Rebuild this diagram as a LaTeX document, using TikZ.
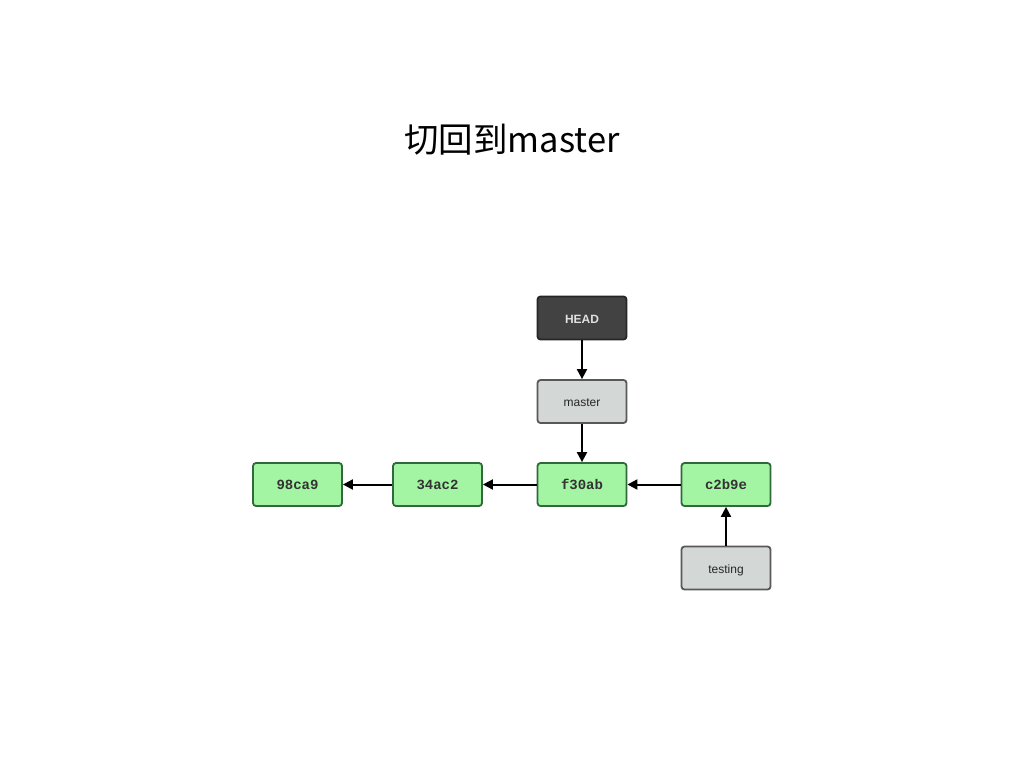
\documentclass[tikz,border=0pt]{standalone}
\usepackage{fontspec}
\setmainfont{Liberation Sans}
\newfontfamily\cjk{Noto Sans CJK SC}
\newfontfamily\monob{Liberation Mono}
\usetikzlibrary{arrows.meta}
\definecolor{cgreen}{HTML}{A3F5A3}
\definecolor{cgreenb}{HTML}{2F6A3D}
\definecolor{cgrey}{HTML}{D3D8D6}
\definecolor{cgreyb}{HTML}{585858}
\definecolor{chead}{HTML}{424242}
\definecolor{cheadb}{HTML}{262626}
\begin{document}
\begin{tikzpicture}[x=1pt,y=-1pt,
  box/.style={line width=1.8pt,rounded corners=3pt,minimum width=89pt,minimum height=43pt,inner sep=0pt,text height=1.9ex,text depth=0ex},
  commit/.style={box,draw=cgreenb,fill=cgreen,font=\monob\bfseries\fontsize{14}{16}\selectfont,text=black!80},
  refbox/.style={box,draw=cgreyb,fill=cgrey,font=\fontsize{12}{14}\selectfont,text=black!85},
  headbox/.style={box,draw=cheadb,fill=chead,font=\bfseries\fontsize{12}{14}\selectfont,text=white!88!black},
  arr/.style={line width=2pt,-{Triangle[length=10pt,width=10pt]}}]
\useasboundingbox (0,0) rectangle (1024,768);
\fill[white] (0,0) rectangle (1024,768);
\node (title) at (512,140) {\cjk\fontsize{34.5}{40}\selectfont 切回到master};
\node[headbox] (head) at (582,318) {HEAD};
\node[refbox] (master) at (582,401.5) {master};
\node[commit] (c1) at (297.5,484.5) {98ca9};
\node[commit] (c2) at (437.5,484.5) {34ac2};
\node[commit] (c3) at (582,484.5) {f30ab};
\node[commit] (c4) at (726,484.5) {c2b9e};
\node[refbox] (testing) at (726,568) {testing};
\draw[arr] (head) -- (master);
\draw[arr] (master) -- (c3);
\draw[arr] (c2) -- (c1);
\draw[arr] (c3) -- (c2);
\draw[arr] (c4) -- (c3);
\draw[arr] (testing) -- (c4);
\end{tikzpicture}
\end{document}
